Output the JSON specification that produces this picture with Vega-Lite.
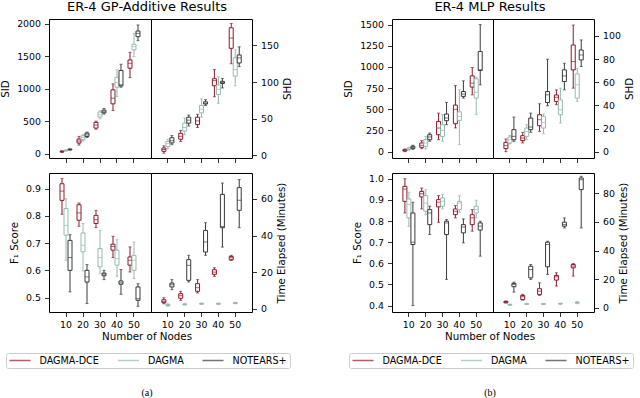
{
"$schema": "https://vega.github.io/schema/vega-lite/v6.json",
"autosize": {"type": "none"},
"padding": {"left": 49, "top": 19, "right": 591, "bottom": 379},
"spacing": 49,
"resolve": {"scale": {"color": "independent", "stroke": "independent"}, "legend": {"color": "independent", "stroke": "independent"}},
"datasets": {"stats": [
{"f":"a","m":"SID","n":10,"k":"DAGMA-DCE","lo":20,"q1":28,"md":32,"q3":38,"hi":45},
{"f":"a","m":"SID","n":10,"k":"DAGMA","lo":40,"q1":45,"md":50,"q3":55,"hi":60},
{"f":"a","m":"SID","n":10,"k":"NOTEARS+","lo":55,"q1":60,"md":65,"q3":70,"hi":75},
{"f":"a","m":"SID","n":20,"k":"DAGMA-DCE","lo":133,"q1":164,"md":195,"q3":225,"hi":266},
{"f":"a","m":"SID","n":20,"k":"DAGMA","lo":194,"q1":215,"md":250,"q3":276,"hi":292},
{"f":"a","m":"SID","n":20,"k":"NOTEARS+","lo":250,"q1":266,"md":290,"q3":317,"hi":332},
{"f":"a","m":"SID","n":30,"k":"DAGMA-DCE","lo":378,"q1":394,"md":440,"q3":481,"hi":501},
{"f":"a","m":"SID","n":30,"k":"DAGMA","lo":537,"q1":563,"md":600,"q3":640,"hi":660},
{"f":"a","m":"SID","n":30,"k":"NOTEARS+","lo":609,"q1":629,"md":645,"q3":670,"hi":696},
{"f":"a","m":"SID","n":40,"k":"DAGMA-DCE","lo":665,"q1":767,"md":854,"q3":982,"hi":1074},
{"f":"a","m":"SID","n":40,"k":"DAGMA","lo":880,"q1":1023,"md":1095,"q3":1176,"hi":1289},
{"f":"a","m":"SID","n":40,"k":"NOTEARS+","lo":1023,"q1":1043,"md":1060,"q3":1279,"hi":1376},
{"f":"a","m":"SID","n":50,"k":"DAGMA-DCE","lo":1171,"q1":1315,"md":1391,"q3":1442,"hi":1560},
{"f":"a","m":"SID","n":50,"k":"DAGMA","lo":1494,"q1":1596,"md":1647,"q3":1683,"hi":1852},
{"f":"a","m":"SID","n":50,"k":"NOTEARS+","lo":1739,"q1":1800,"md":1852,"q3":1887,"hi":1980},
{"f":"a","m":"SHD","n":10,"k":"DAGMA-DCE","lo":3,"q1":5.5,"md":8,"q3":10,"hi":13},
{"f":"a","m":"SHD","n":10,"k":"DAGMA","lo":9,"q1":12,"md":16,"q3":19,"hi":22},
{"f":"a","m":"SHD","n":10,"k":"NOTEARS+","lo":14.5,"q1":17,"md":20,"q3":24,"hi":27},
{"f":"a","m":"SHD","n":20,"k":"DAGMA-DCE","lo":19,"q1":22,"md":26,"q3":30,"hi":34},
{"f":"a","m":"SHD","n":20,"k":"DAGMA","lo":28,"q1":33,"md":38,"q3":44,"hi":51},
{"f":"a","m":"SHD","n":20,"k":"NOTEARS+","lo":40,"q1":44,"md":48,"q3":52,"hi":55},
{"f":"a","m":"SHD","n":30,"k":"DAGMA-DCE","lo":38,"q1":42,"md":47,"q3":52,"hi":56},
{"f":"a","m":"SHD","n":30,"k":"DAGMA","lo":52,"q1":58,"md":63,"q3":68,"hi":77},
{"f":"a","m":"SHD","n":30,"k":"NOTEARS+","lo":68,"q1":70,"md":71,"q3":73,"hi":76},
{"f":"a","m":"SHD","n":40,"k":"DAGMA-DCE","lo":80,"q1":95,"md":102,"q3":104.5,"hi":117},
{"f":"a","m":"SHD","n":40,"k":"DAGMA","lo":71,"q1":83,"md":90,"q3":96,"hi":107},
{"f":"a","m":"SHD","n":40,"k":"NOTEARS+","lo":92,"q1":98,"md":99.5,"q3":101,"hi":105},
{"f":"a","m":"SHD","n":50,"k":"DAGMA-DCE","lo":125,"q1":146,"md":160,"q3":174,"hi":180},
{"f":"a","m":"SHD","n":50,"k":"DAGMA","lo":95,"q1":108,"md":117,"q3":133,"hi":144},
{"f":"a","m":"SHD","n":50,"k":"NOTEARS+","lo":121,"q1":126,"md":133,"q3":137,"hi":148},
{"f":"a","m":"F1","n":10,"k":"DAGMA-DCE","lo":0.806,"q1":0.857,"md":0.891,"q3":0.918,"hi":0.937},
{"f":"a","m":"F1","n":10,"k":"DAGMA","lo":0.637,"q1":0.729,"md":0.765,"q3":0.827,"hi":0.863},
{"f":"a","m":"F1","n":10,"k":"NOTEARS+","lo":0.521,"q1":0.6,"md":0.647,"q3":0.71,"hi":0.731},
{"f":"a","m":"F1","n":20,"k":"DAGMA-DCE","lo":0.762,"q1":0.784,"md":0.811,"q3":0.841,"hi":0.847},
{"f":"a","m":"F1","n":20,"k":"DAGMA","lo":0.598,"q1":0.668,"md":0.692,"q3":0.737,"hi":0.772},
{"f":"a","m":"F1","n":20,"k":"NOTEARS+","lo":0.478,"q1":0.557,"md":0.576,"q3":0.6,"hi":0.621},
{"f":"a","m":"F1","n":30,"k":"DAGMA-DCE","lo":0.757,"q1":0.772,"md":0.786,"q3":0.802,"hi":0.82},
{"f":"a","m":"F1","n":30,"k":"DAGMA","lo":0.588,"q1":0.613,"md":0.647,"q3":0.68,"hi":0.747},
{"f":"a","m":"F1","n":30,"k":"NOTEARS+","lo":0.566,"q1":0.58,"md":0.586,"q3":0.59,"hi":0.6},
{"f":"a","m":"F1","n":40,"k":"DAGMA-DCE","lo":0.647,"q1":0.674,"md":0.688,"q3":0.696,"hi":0.725},
{"f":"a","m":"F1","n":40,"k":"DAGMA","lo":0.578,"q1":0.619,"md":0.643,"q3":0.674,"hi":0.713},
{"f":"a","m":"F1","n":40,"k":"NOTEARS+","lo":0.512,"q1":0.549,"md":0.554,"q3":0.561,"hi":0.603},
{"f":"a","m":"F1","n":50,"k":"DAGMA-DCE","lo":0.594,"q1":0.619,"md":0.637,"q3":0.649,"hi":0.686},
{"f":"a","m":"F1","n":50,"k":"DAGMA","lo":0.57,"q1":0.6,"md":0.637,"q3":0.655,"hi":0.704},
{"f":"a","m":"F1","n":50,"k":"NOTEARS+","lo":0.468,"q1":0.49,"md":0.496,"q3":0.539,"hi":0.551},
{"f":"a","m":"T","n":10,"k":"DAGMA-DCE","lo":2.7,"q1":3.3,"md":4,"q3":4.9,"hi":6},
{"f":"a","m":"T","n":10,"k":"DAGMA","lo":1.3,"q1":1.7,"md":2,"q3":2.3,"hi":2.7},
{"f":"a","m":"T","n":10,"k":"NOTEARS+","lo":10.4,"q1":11.9,"md":13.1,"q3":14,"hi":15.9},
{"f":"a","m":"T","n":20,"k":"DAGMA-DCE","lo":4.6,"q1":5.7,"md":7.1,"q3":8.2,"hi":9.5},
{"f":"a","m":"T","n":20,"k":"DAGMA","lo":2,"q1":2.2,"md":2.4,"q3":2.6,"hi":2.9},
{"f":"a","m":"T","n":20,"k":"NOTEARS+","lo":14.6,"q1":15.5,"md":23.7,"q3":26.8,"hi":29.2},
{"f":"a","m":"T","n":30,"k":"DAGMA-DCE","lo":8.6,"q1":9.5,"md":11.5,"q3":13.7,"hi":15.9},
{"f":"a","m":"T","n":30,"k":"DAGMA","lo":2.3,"q1":2.5,"md":2.7,"q3":2.9,"hi":3.1},
{"f":"a","m":"T","n":30,"k":"NOTEARS+","lo":29.2,"q1":31,"md":36.5,"q3":42.8,"hi":47},
{"f":"a","m":"T","n":40,"k":"DAGMA-DCE","lo":17.7,"q1":18.8,"md":20,"q3":21.3,"hi":22.4},
{"f":"a","m":"T","n":40,"k":"DAGMA","lo":2.3,"q1":2.5,"md":2.7,"q3":2.9,"hi":3.1},
{"f":"a","m":"T","n":40,"k":"NOTEARS+","lo":33.7,"q1":44.3,"md":45,"q3":62.5,"hi":68.7},
{"f":"a","m":"T","n":50,"k":"DAGMA-DCE","lo":26.4,"q1":26.8,"md":27.9,"q3":28.6,"hi":29.2},
{"f":"a","m":"T","n":50,"k":"DAGMA","lo":2.7,"q1":2.9,"md":3.1,"q3":3.3,"hi":3.5},
{"f":"a","m":"T","n":50,"k":"NOTEARS+","lo":44.3,"q1":53.8,"md":59.3,"q3":66.2,"hi":70.6},
{"f":"b","m":"SID","n":10,"k":"DAGMA-DCE","lo":0,"q1":8,"md":16,"q3":24,"hi":31},
{"f":"b","m":"SID","n":10,"k":"DAGMA","lo":18,"q1":24,"md":31,"q3":43,"hi":50},
{"f":"b","m":"SID","n":10,"k":"NOTEARS+","lo":27,"q1":39,"md":51,"q3":63,"hi":75},
{"f":"b","m":"SID","n":20,"k":"DAGMA-DCE","lo":35,"q1":51,"md":75,"q3":102,"hi":130},
{"f":"b","m":"SID","n":20,"k":"DAGMA","lo":31,"q1":63,"md":102,"q3":141,"hi":180},
{"f":"b","m":"SID","n":20,"k":"NOTEARS+","lo":122,"q1":141,"md":173,"q3":200,"hi":220},
{"f":"b","m":"SID","n":30,"k":"DAGMA-DCE","lo":141,"q1":200,"md":279,"q3":357,"hi":455},
{"f":"b","m":"SID","n":30,"k":"DAGMA","lo":122,"q1":180,"md":251,"q3":318,"hi":436},
{"f":"b","m":"SID","n":30,"k":"NOTEARS+","lo":318,"q1":365,"md":397,"q3":444,"hi":581},
{"f":"b","m":"SID","n":40,"k":"DAGMA-DCE","lo":280,"q1":330,"md":500,"q3":550,"hi":780},
{"f":"b","m":"SID","n":40,"k":"DAGMA","lo":85,"q1":369,"md":416,"q3":470,"hi":730},
{"f":"b","m":"SID","n":40,"k":"NOTEARS+","lo":632,"q1":652,"md":679,"q3":710,"hi":836},
{"f":"b","m":"SID","n":50,"k":"DAGMA-DCE","lo":671,"q1":762,"md":809,"q3":895,"hi":993},
{"f":"b","m":"SID","n":50,"k":"DAGMA","lo":440,"q1":632,"md":700,"q3":860,"hi":880},
{"f":"b","m":"SID","n":50,"k":"NOTEARS+","lo":789,"q1":958,"md":966,"q3":1182,"hi":1500},
{"f":"b","m":"SHD","n":10,"k":"DAGMA-DCE","lo":0,"q1":2.6,"md":5.2,"q3":8,"hi":10.9},
{"f":"b","m":"SHD","n":10,"k":"DAGMA","lo":6.6,"q1":7.5,"md":10.3,"q3":12.6,"hi":14},
{"f":"b","m":"SHD","n":10,"k":"NOTEARS+","lo":8.9,"q1":10.3,"md":13.2,"q3":19,"hi":29.9},
{"f":"b","m":"SHD","n":20,"k":"DAGMA-DCE","lo":7.5,"q1":9.5,"md":11.8,"q3":13.8,"hi":16.7},
{"f":"b","m":"SHD","n":20,"k":"DAGMA","lo":10.3,"q1":13.2,"md":17.5,"q3":20.4,"hi":23.3},
{"f":"b","m":"SHD","n":20,"k":"NOTEARS+","lo":16.7,"q1":19,"md":21.3,"q3":29,"hi":33.3},
{"f":"b","m":"SHD","n":30,"k":"DAGMA-DCE","lo":17.5,"q1":22.4,"md":27.6,"q3":31.9,"hi":41.4},
{"f":"b","m":"SHD","n":30,"k":"DAGMA","lo":15.5,"q1":20.4,"md":25.3,"q3":30.5,"hi":32.5},
{"f":"b","m":"SHD","n":30,"k":"NOTEARS+","lo":39.7,"q1":42.5,"md":49.1,"q3":52,"hi":79.9},
{"f":"b","m":"SHD","n":40,"k":"DAGMA-DCE","lo":40.5,"q1":43.4,"md":47,"q3":49,"hi":53.4},
{"f":"b","m":"SHD","n":40,"k":"DAGMA","lo":24.7,"q1":31.9,"md":36.2,"q3":44.8,"hi":54.9},
{"f":"b","m":"SHD","n":40,"k":"NOTEARS+","lo":53.4,"q1":60.6,"md":65.5,"q3":70.7,"hi":76.4},
{"f":"b","m":"SHD","n":50,"k":"DAGMA-DCE","lo":54.9,"q1":70.7,"md":77.9,"q3":92.2,"hi":109.5},
{"f":"b","m":"SHD","n":50,"k":"DAGMA","lo":43.4,"q1":46.3,"md":57.8,"q3":67.2,"hi":72.1},
{"f":"b","m":"SHD","n":50,"k":"NOTEARS+","lo":73.6,"q1":79.3,"md":83.6,"q3":87.9,"hi":96.6},
{"f":"b","m":"F1","n":10,"k":"DAGMA-DCE","lo":0.838,"q1":0.893,"md":0.951,"q3":0.964,"hi":1.0},
{"f":"b","m":"F1","n":10,"k":"DAGMA","lo":0.775,"q1":0.815,"md":0.878,"q3":0.904,"hi":0.936},
{"f":"b","m":"F1","n":10,"k":"NOTEARS+","lo":0.4,"q1":0.689,"md":0.7,"q3":0.838,"hi":0.889},
{"f":"b","m":"F1","n":20,"k":"DAGMA-DCE","lo":0.857,"q1":0.914,"md":0.929,"q3":0.94,"hi":0.956},
{"f":"b","m":"F1","n":20,"k":"DAGMA","lo":0.83,"q1":0.846,"md":0.885,"q3":0.92,"hi":0.948},
{"f":"b","m":"F1","n":20,"k":"NOTEARS+","lo":0.736,"q1":0.783,"md":0.838,"q3":0.854,"hi":0.87},
{"f":"b","m":"F1","n":30,"k":"DAGMA-DCE","lo":0.794,"q1":0.867,"md":0.889,"q3":0.901,"hi":0.92},
{"f":"b","m":"F1","n":30,"k":"DAGMA","lo":0.857,"q1":0.87,"md":0.893,"q3":0.909,"hi":0.925},
{"f":"b","m":"F1","n":30,"k":"NOTEARS+","lo":0.524,"q1":0.736,"md":0.791,"q3":0.799,"hi":0.807},
{"f":"b","m":"F1","n":40,"k":"DAGMA-DCE","lo":0.815,"q1":0.83,"md":0.846,"q3":0.857,"hi":0.873},
{"f":"b","m":"F1","n":40,"k":"DAGMA","lo":0.841,"q1":0.854,"md":0.885,"q3":0.893,"hi":0.92},
{"f":"b","m":"F1","n":40,"k":"NOTEARS+","lo":0.697,"q1":0.744,"md":0.772,"q3":0.783,"hi":0.81},
{"f":"b","m":"F1","n":50,"k":"DAGMA-DCE","lo":0.752,"q1":0.783,"md":0.815,"q3":0.83,"hi":0.854},
{"f":"b","m":"F1","n":50,"k":"DAGMA","lo":0.815,"q1":0.838,"md":0.854,"q3":0.87,"hi":0.898},
{"f":"b","m":"F1","n":50,"k":"NOTEARS+","lo":0.634,"q1":0.757,"md":0.776,"q3":0.791,"hi":0.799},
{"f":"b","m":"T","n":10,"k":"DAGMA-DCE","lo":3.3,"q1":3.5,"md":4,"q3":4.4,"hi":4.7},
{"f":"b","m":"T","n":10,"k":"DAGMA","lo":1.7,"q1":1.9,"md":2.1,"q3":2.3,"hi":2.5},
{"f":"b","m":"T","n":10,"k":"NOTEARS+","lo":10.9,"q1":14.7,"md":16.3,"q3":17,"hi":17.9},
{"f":"b","m":"T","n":20,"k":"DAGMA-DCE","lo":5.3,"q1":5.8,"md":7.7,"q3":8.6,"hi":9.3},
{"f":"b","m":"T","n":20,"k":"DAGMA","lo":2.2,"q1":2.4,"md":2.6,"q3":2.8,"hi":3},
{"f":"b","m":"T","n":20,"k":"NOTEARS+","lo":19.8,"q1":20.9,"md":26.7,"q3":29,"hi":30.2},
{"f":"b","m":"T","n":30,"k":"DAGMA-DCE","lo":8.6,"q1":9.3,"md":11.6,"q3":13.3,"hi":17.4},
{"f":"b","m":"T","n":30,"k":"DAGMA","lo":2.2,"q1":2.4,"md":2.6,"q3":2.8,"hi":3},
{"f":"b","m":"T","n":30,"k":"NOTEARS+","lo":23.3,"q1":28.6,"md":44.2,"q3":45.8,"hi":46.5},
{"f":"b","m":"T","n":40,"k":"DAGMA-DCE","lo":15.1,"q1":19.3,"md":21.6,"q3":22.6,"hi":24.4},
{"f":"b","m":"T","n":40,"k":"DAGMA","lo":2.4,"q1":2.6,"md":2.8,"q3":3,"hi":3.2},
{"f":"b","m":"T","n":40,"k":"NOTEARS+","lo":55.8,"q1":57,"md":58.1,"q3":59.8,"hi":62.8},
{"f":"b","m":"T","n":50,"k":"DAGMA-DCE","lo":22.1,"q1":27.9,"md":29.1,"q3":30.2,"hi":30.9},
{"f":"b","m":"T","n":50,"k":"DAGMA","lo":2.8,"q1":3.2,"md":3.5,"q3":3.8,"hi":4.3},
{"f":"b","m":"T","n":50,"k":"NOTEARS+","lo":55.8,"q1":82.6,"md":89.5,"q3":90.7,"hi":91.9}
]},
"hconcat": [
{
 "columns": 2,
 "spacing": {"row": 15, "column": 0},
 "bounds": "flush",
 "resolve": {"scale": {"color": "independent", "stroke": "independent"}, "legend": {"color": "independent", "stroke": "independent"}},
 "concat": [
  {
   "width": 102, "height": 139,
   "title": {"text": "ER-4 GP-Additive Results", "anchor": "end", "align": "center", "frame": "group", "dx": -4, "offset": 5, "fontSize": 13},
   "data": {"name": "stats"},
   "transform": [{"filter": "datum.f == 'a' && datum.m == 'SID'"}],
   "encoding": {
    "x": {"field": "n", "type": "ordinal", "scale": {"paddingInner": 0.2941, "paddingOuter": 0.6471}, "axis": {"title": null, "labels": false}},
    "xOffset": {"field": "k", "type": "nominal", "scale": {"domain": ["DAGMA-DCE", "DAGMA", "NOTEARS+"], "paddingInner": 0, "paddingOuter": 0}},
    "color": {"field": "k", "type": "nominal", "scale": {"domain": ["DAGMA-DCE", "DAGMA", "NOTEARS+"], "range": ["#8b1a2b", "#96b9ad", "#3a3a3a"]}, "legend": null}
   },
   "layer": [
    {"mark": {"type": "rule", "strokeWidth": 1}, "encoding": {"y": {"field": "lo", "type": "quantitative", "title": "SID", "scale": {"domain": [-66, 2072], "nice": false, "zero": false}, "axis": {"orient": "left", "values": [0, 500, 1000, 1500, 2000], "tickCount": 10, "format": "d", "labelOverlap": false}}, "y2": {"field": "hi"}}},
    {"mark": {"type": "tick", "size": 3, "thickness": 1}, "encoding": {"y": {"field": "lo", "type": "quantitative", "title": "SID"}}},
    {"mark": {"type": "tick", "size": 3, "thickness": 1}, "encoding": {"y": {"field": "hi", "type": "quantitative", "title": "SID"}}},
    {"mark": {"type": "bar", "strokeWidth": 1}, "encoding": {"y": {"field": "q1", "type": "quantitative", "title": "SID"}, "y2": {"field": "q3"}, "color": {"value": "white"}, "stroke": {"field": "k", "type": "nominal", "scale": {"domain": ["DAGMA-DCE", "DAGMA", "NOTEARS+"], "range": ["#8b1a2b", "#96b9ad", "#3a3a3a"]}, "legend": null}}},
    {"mark": {"type": "tick", "size": 4, "thickness": 1}, "encoding": {"y": {"field": "md", "type": "quantitative", "title": "SID"}}}
   ]
  },
  {
   "width": 101, "height": 139,
   "data": {"name": "stats"},
   "transform": [{"filter": "datum.f == 'a' && datum.m == 'SHD'"}],
   "encoding": {
    "x": {"field": "n", "type": "ordinal", "scale": {"paddingInner": 0.2941, "paddingOuter": 0.6471}, "axis": {"title": null, "labels": false}},
    "xOffset": {"field": "k", "type": "nominal", "scale": {"domain": ["DAGMA-DCE", "DAGMA", "NOTEARS+"], "paddingInner": 0, "paddingOuter": 0}},
    "color": {"field": "k", "type": "nominal", "scale": {"domain": ["DAGMA-DCE", "DAGMA", "NOTEARS+"], "range": ["#8b1a2b", "#96b9ad", "#3a3a3a"]}, "legend": null}
   },
   "layer": [
    {"mark": {"type": "rule", "strokeWidth": 1}, "encoding": {"y": {"field": "lo", "type": "quantitative", "title": "SHD", "scale": {"domain": [-3.6, 186], "nice": false, "zero": false}, "axis": {"orient": "right", "values": [0, 50, 100, 150], "tickCount": 10, "titleAngle": 270, "titleBaseline": "top", "labelOverlap": false}}, "y2": {"field": "hi"}}},
    {"mark": {"type": "tick", "size": 3, "thickness": 1}, "encoding": {"y": {"field": "lo", "type": "quantitative", "title": "SHD"}}},
    {"mark": {"type": "tick", "size": 3, "thickness": 1}, "encoding": {"y": {"field": "hi", "type": "quantitative", "title": "SHD"}}},
    {"mark": {"type": "bar", "strokeWidth": 1}, "encoding": {"y": {"field": "q1", "type": "quantitative", "title": "SHD"}, "y2": {"field": "q3"}, "color": {"value": "white"}, "stroke": {"field": "k", "type": "nominal", "scale": {"domain": ["DAGMA-DCE", "DAGMA", "NOTEARS+"], "range": ["#8b1a2b", "#96b9ad", "#3a3a3a"]}, "legend": null}}},
    {"mark": {"type": "tick", "size": 4, "thickness": 1}, "encoding": {"y": {"field": "md", "type": "quantitative", "title": "SHD"}}}
   ]
  },
  {
   "width": 102, "height": 139,
   "title": {"text": "Number of Nodes", "orient": "bottom", "anchor": "end", "align": "center", "frame": "group", "dx": -4, "offset": 3, "fontSize": 10.3},
   "data": {"name": "stats"},
   "transform": [{"filter": "datum.f == 'a' && datum.m == 'F1'"}],
   "encoding": {
    "x": {"field": "n", "type": "ordinal", "scale": {"paddingInner": 0.2941, "paddingOuter": 0.6471}, "axis": {"title": null, "labelAngle": 0}},
    "xOffset": {"field": "k", "type": "nominal", "scale": {"domain": ["DAGMA-DCE", "DAGMA", "NOTEARS+"], "paddingInner": 0, "paddingOuter": 0}},
    "color": {"field": "k", "type": "nominal", "scale": {"domain": ["DAGMA-DCE", "DAGMA", "NOTEARS+"], "range": ["#8b1a2b", "#96b9ad", "#3a3a3a"]}, "legend": null}
   },
   "layer": [
    {"mark": {"type": "rule", "strokeWidth": 1}, "encoding": {"y": {"field": "lo", "type": "quantitative", "title": "F₁ Score", "scale": {"domain": [0.447, 0.9575], "nice": false, "zero": false}, "axis": {"orient": "left", "values": [0.5, 0.6, 0.7, 0.8, 0.9], "tickCount": 10, "format": ".1f", "labelOverlap": false}}, "y2": {"field": "hi"}}},
    {"mark": {"type": "tick", "size": 3, "thickness": 1}, "encoding": {"y": {"field": "lo", "type": "quantitative", "title": "F₁ Score"}}},
    {"mark": {"type": "tick", "size": 3, "thickness": 1}, "encoding": {"y": {"field": "hi", "type": "quantitative", "title": "F₁ Score"}}},
    {"mark": {"type": "bar", "strokeWidth": 1}, "encoding": {"y": {"field": "q1", "type": "quantitative", "title": "F₁ Score"}, "y2": {"field": "q3"}, "color": {"value": "white"}, "stroke": {"field": "k", "type": "nominal", "scale": {"domain": ["DAGMA-DCE", "DAGMA", "NOTEARS+"], "range": ["#8b1a2b", "#96b9ad", "#3a3a3a"]}, "legend": null}}},
    {"mark": {"type": "tick", "size": 4, "thickness": 1}, "encoding": {"y": {"field": "md", "type": "quantitative", "title": "F₁ Score"}}}
   ]
  },
  {
   "width": 101, "height": 139,
   "title": {"text": "(a)", "orient": "bottom", "anchor": "start", "align": "center", "frame": "group", "dx": -4, "offset": 19, "fontSize": 10, "font": "Liberation Serif"},
   "data": {"name": "stats"},
   "transform": [{"filter": "datum.f == 'a' && datum.m == 'T'"}],
   "encoding": {
    "x": {"field": "n", "type": "ordinal", "scale": {"paddingInner": 0.2941, "paddingOuter": 0.6471}, "axis": {"title": null, "labelAngle": 0}},
    "xOffset": {"field": "k", "type": "nominal", "scale": {"domain": ["DAGMA-DCE", "DAGMA", "NOTEARS+"], "paddingInner": 0, "paddingOuter": 0}},
    "color": {"field": "k", "type": "nominal", "scale": {"domain": ["DAGMA-DCE", "DAGMA", "NOTEARS+"], "range": ["#8b1a2b", "#96b9ad", "#3a3a3a"]},
     "legend": {"orient": "none", "legendX": -145, "legendY": 180, "direction": "horizontal", "title": null, "symbolType": "stroke", "symbolSize": 441, "symbolStrokeWidth": 1.5, "labelFont": "DejaVu Sans", "labelFontSize": 9.6, "labelColor": "black", "labelOffset": 8, "columnPadding": 17.5, "padding": 2.5, "clipHeight": 10, "strokeColor": "#cccccc", "cornerRadius": 2, "fillColor": "white"}}
   },
   "layer": [
    {"mark": {"type": "rule", "strokeWidth": 1}, "encoding": {"y": {"field": "lo", "type": "quantitative", "title": "Time Elapsed (Minutes)", "scale": {"domain": [-1.8, 74.2], "nice": false, "zero": false}, "axis": {"orient": "right", "values": [0, 20, 40, 60], "tickCount": 10, "titleAngle": 270, "titleBaseline": "top", "labelOverlap": false}}, "y2": {"field": "hi"}}},
    {"mark": {"type": "tick", "size": 3, "thickness": 1}, "encoding": {"y": {"field": "lo", "type": "quantitative", "title": "Time Elapsed (Minutes)"}}},
    {"mark": {"type": "tick", "size": 3, "thickness": 1}, "encoding": {"y": {"field": "hi", "type": "quantitative", "title": "Time Elapsed (Minutes)"}}},
    {"mark": {"type": "bar", "strokeWidth": 1}, "encoding": {"y": {"field": "q1", "type": "quantitative", "title": "Time Elapsed (Minutes)"}, "y2": {"field": "q3"}, "color": {"value": "white"}, "stroke": {"field": "k", "type": "nominal", "scale": {"domain": ["DAGMA-DCE", "DAGMA", "NOTEARS+"], "range": ["#8b1a2b", "#96b9ad", "#3a3a3a"]}, "legend": null}}},
    {"mark": {"type": "tick", "size": 4, "thickness": 1}, "encoding": {"y": {"field": "md", "type": "quantitative", "title": "Time Elapsed (Minutes)"}}}
   ]
  }
 ]
},
{
 "columns": 2,
 "spacing": {"row": 15, "column": 0},
 "bounds": "flush",
 "resolve": {"scale": {"color": "independent", "stroke": "independent"}, "legend": {"color": "independent", "stroke": "independent"}},
 "concat": [
  {
   "width": 101, "height": 139,
   "title": {"text": "ER-4 MLP Results", "anchor": "end", "align": "center", "frame": "group", "dx": -3, "offset": 5, "fontSize": 13},
   "data": {"name": "stats"},
   "transform": [{"filter": "datum.f == 'b' && datum.m == 'SID'"}],
   "encoding": {
    "x": {"field": "n", "type": "ordinal", "scale": {"paddingInner": 0.2941, "paddingOuter": 0.6471}, "axis": {"title": null, "labels": false}},
    "xOffset": {"field": "k", "type": "nominal", "scale": {"domain": ["DAGMA-DCE", "DAGMA", "NOTEARS+"], "paddingInner": 0, "paddingOuter": 0}},
    "color": {"field": "k", "type": "nominal", "scale": {"domain": ["DAGMA-DCE", "DAGMA", "NOTEARS+"], "range": ["#8b1a2b", "#96b9ad", "#3a3a3a"]}, "legend": null}
   },
   "layer": [
    {"mark": {"type": "rule", "strokeWidth": 1}, "encoding": {"y": {"field": "lo", "type": "quantitative", "title": "SID", "scale": {"domain": [-75, 1566], "nice": false, "zero": false}, "axis": {"orient": "left", "values": [0, 250, 500, 750, 1000, 1250, 1500], "tickCount": 10, "format": "d", "labelOverlap": false}}, "y2": {"field": "hi"}}},
    {"mark": {"type": "tick", "size": 3, "thickness": 1}, "encoding": {"y": {"field": "lo", "type": "quantitative", "title": "SID"}}},
    {"mark": {"type": "tick", "size": 3, "thickness": 1}, "encoding": {"y": {"field": "hi", "type": "quantitative", "title": "SID"}}},
    {"mark": {"type": "bar", "strokeWidth": 1}, "encoding": {"y": {"field": "q1", "type": "quantitative", "title": "SID"}, "y2": {"field": "q3"}, "color": {"value": "white"}, "stroke": {"field": "k", "type": "nominal", "scale": {"domain": ["DAGMA-DCE", "DAGMA", "NOTEARS+"], "range": ["#8b1a2b", "#96b9ad", "#3a3a3a"]}, "legend": null}}},
    {"mark": {"type": "tick", "size": 4, "thickness": 1}, "encoding": {"y": {"field": "md", "type": "quantitative", "title": "SID"}}}
   ]
  },
  {
   "width": 101, "height": 139,
   "data": {"name": "stats"},
   "transform": [{"filter": "datum.f == 'b' && datum.m == 'SHD'"}],
   "encoding": {
    "x": {"field": "n", "type": "ordinal", "scale": {"paddingInner": 0.2941, "paddingOuter": 0.6471}, "axis": {"title": null, "labels": false}},
    "xOffset": {"field": "k", "type": "nominal", "scale": {"domain": ["DAGMA-DCE", "DAGMA", "NOTEARS+"], "paddingInner": 0, "paddingOuter": 0}},
    "color": {"field": "k", "type": "nominal", "scale": {"domain": ["DAGMA-DCE", "DAGMA", "NOTEARS+"], "range": ["#8b1a2b", "#96b9ad", "#3a3a3a"]}, "legend": null}
   },
   "layer": [
    {"mark": {"type": "rule", "strokeWidth": 1}, "encoding": {"y": {"field": "lo", "type": "quantitative", "title": "SHD", "scale": {"domain": [-5.5, 114.7], "nice": false, "zero": false}, "axis": {"orient": "right", "values": [0, 20, 40, 60, 80, 100], "tickCount": 10, "titleAngle": 270, "titleBaseline": "top", "labelOverlap": false}}, "y2": {"field": "hi"}}},
    {"mark": {"type": "tick", "size": 3, "thickness": 1}, "encoding": {"y": {"field": "lo", "type": "quantitative", "title": "SHD"}}},
    {"mark": {"type": "tick", "size": 3, "thickness": 1}, "encoding": {"y": {"field": "hi", "type": "quantitative", "title": "SHD"}}},
    {"mark": {"type": "bar", "strokeWidth": 1}, "encoding": {"y": {"field": "q1", "type": "quantitative", "title": "SHD"}, "y2": {"field": "q3"}, "color": {"value": "white"}, "stroke": {"field": "k", "type": "nominal", "scale": {"domain": ["DAGMA-DCE", "DAGMA", "NOTEARS+"], "range": ["#8b1a2b", "#96b9ad", "#3a3a3a"]}, "legend": null}}},
    {"mark": {"type": "tick", "size": 4, "thickness": 1}, "encoding": {"y": {"field": "md", "type": "quantitative", "title": "SHD"}}}
   ]
  },
  {
   "width": 101, "height": 139,
   "title": {"text": "Number of Nodes", "orient": "bottom", "anchor": "end", "align": "center", "frame": "group", "dx": -3, "offset": 3, "fontSize": 10.3},
   "data": {"name": "stats"},
   "transform": [{"filter": "datum.f == 'b' && datum.m == 'F1'"}],
   "encoding": {
    "x": {"field": "n", "type": "ordinal", "scale": {"paddingInner": 0.2941, "paddingOuter": 0.6471}, "axis": {"title": null, "labelAngle": 0}},
    "xOffset": {"field": "k", "type": "nominal", "scale": {"domain": ["DAGMA-DCE", "DAGMA", "NOTEARS+"], "paddingInner": 0, "paddingOuter": 0}},
    "color": {"field": "k", "type": "nominal", "scale": {"domain": ["DAGMA-DCE", "DAGMA", "NOTEARS+"], "range": ["#8b1a2b", "#96b9ad", "#3a3a3a"]}, "legend": null}
   },
   "layer": [
    {"mark": {"type": "rule", "strokeWidth": 1}, "encoding": {"y": {"field": "lo", "type": "quantitative", "title": "F₁ Score", "scale": {"domain": [0.37, 1.027], "nice": false, "zero": false}, "axis": {"orient": "left", "values": [0.4, 0.5, 0.6, 0.7, 0.8, 0.9, 1.0], "tickCount": 10, "format": ".1f", "labelOverlap": false}}, "y2": {"field": "hi"}}},
    {"mark": {"type": "tick", "size": 3, "thickness": 1}, "encoding": {"y": {"field": "lo", "type": "quantitative", "title": "F₁ Score"}}},
    {"mark": {"type": "tick", "size": 3, "thickness": 1}, "encoding": {"y": {"field": "hi", "type": "quantitative", "title": "F₁ Score"}}},
    {"mark": {"type": "bar", "strokeWidth": 1}, "encoding": {"y": {"field": "q1", "type": "quantitative", "title": "F₁ Score"}, "y2": {"field": "q3"}, "color": {"value": "white"}, "stroke": {"field": "k", "type": "nominal", "scale": {"domain": ["DAGMA-DCE", "DAGMA", "NOTEARS+"], "range": ["#8b1a2b", "#96b9ad", "#3a3a3a"]}, "legend": null}}},
    {"mark": {"type": "tick", "size": 4, "thickness": 1}, "encoding": {"y": {"field": "md", "type": "quantitative", "title": "F₁ Score"}}}
   ]
  },
  {
   "width": 101, "height": 139,
   "title": {"text": "(b)", "orient": "bottom", "anchor": "start", "align": "center", "frame": "group", "dx": -3, "offset": 19, "fontSize": 10, "font": "Liberation Serif"},
   "data": {"name": "stats"},
   "transform": [{"filter": "datum.f == 'b' && datum.m == 'T'"}],
   "encoding": {
    "x": {"field": "n", "type": "ordinal", "scale": {"paddingInner": 0.2941, "paddingOuter": 0.6471}, "axis": {"title": null, "labelAngle": 0}},
    "xOffset": {"field": "k", "type": "nominal", "scale": {"domain": ["DAGMA-DCE", "DAGMA", "NOTEARS+"], "paddingInner": 0, "paddingOuter": 0}},
    "color": {"field": "k", "type": "nominal", "scale": {"domain": ["DAGMA-DCE", "DAGMA", "NOTEARS+"], "range": ["#8b1a2b", "#96b9ad", "#3a3a3a"]},
     "legend": {"orient": "none", "legendX": -144, "legendY": 180, "direction": "horizontal", "title": null, "symbolType": "stroke", "symbolSize": 441, "symbolStrokeWidth": 1.5, "labelFont": "DejaVu Sans", "labelFontSize": 9.6, "labelColor": "black", "labelOffset": 8, "columnPadding": 17.5, "padding": 2.5, "clipHeight": 10, "strokeColor": "#cccccc", "cornerRadius": 2, "fillColor": "white"}}
   },
   "layer": [
    {"mark": {"type": "rule", "strokeWidth": 1}, "encoding": {"y": {"field": "lo", "type": "quantitative", "title": "Time Elapsed (Minutes)", "scale": {"domain": [-3, 94.2], "nice": false, "zero": false}, "axis": {"orient": "right", "values": [0, 20, 40, 60, 80], "tickCount": 10, "titleAngle": 270, "titleBaseline": "top", "labelOverlap": false}}, "y2": {"field": "hi"}}},
    {"mark": {"type": "tick", "size": 3, "thickness": 1}, "encoding": {"y": {"field": "lo", "type": "quantitative", "title": "Time Elapsed (Minutes)"}}},
    {"mark": {"type": "tick", "size": 3, "thickness": 1}, "encoding": {"y": {"field": "hi", "type": "quantitative", "title": "Time Elapsed (Minutes)"}}},
    {"mark": {"type": "bar", "strokeWidth": 1}, "encoding": {"y": {"field": "q1", "type": "quantitative", "title": "Time Elapsed (Minutes)"}, "y2": {"field": "q3"}, "color": {"value": "white"}, "stroke": {"field": "k", "type": "nominal", "scale": {"domain": ["DAGMA-DCE", "DAGMA", "NOTEARS+"], "range": ["#8b1a2b", "#96b9ad", "#3a3a3a"]}, "legend": null}}},
    {"mark": {"type": "tick", "size": 4, "thickness": 1}, "encoding": {"y": {"field": "md", "type": "quantitative", "title": "Time Elapsed (Minutes)"}}}
   ]
  }
 ]
}
],
"config": {
 "font": "DejaVu Sans",
 "view": {"stroke": "black", "strokeWidth": 1},
 "axis": {"domain": false, "grid": false, "labelFont": "DejaVu Sans", "labelFontSize": 9.4, "labelColor": "black", "labelOverlap": false, "titleFont": "DejaVu Sans", "titleFontSize": 10.3, "titleFontWeight": "normal", "titleColor": "black", "tickColor": "black", "tickSize": 4.5, "tickWidth": 0.8, "labelPadding": 4},
 "axisLeft": {"titlePadding": 6},
 "axisRight": {"titlePadding": 4},
 "title": {"font": "DejaVu Sans", "fontWeight": "normal", "color": "black"}
}
}
